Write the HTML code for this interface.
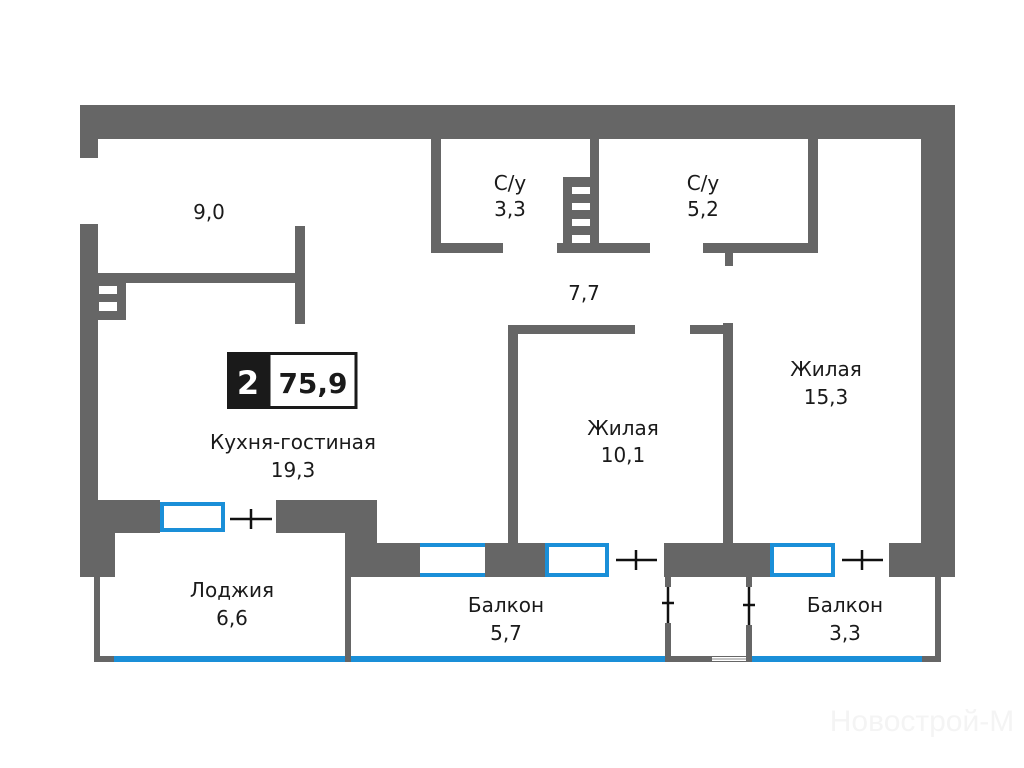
<!DOCTYPE html>
<html><head><meta charset="utf-8"><style>
html,body{margin:0;padding:0;background:#fff;}
svg{display:block;}
text{font-family:"DejaVu Sans","Liberation Sans",sans-serif;font-size:20px;fill:#1a1a1a;text-anchor:middle;}
</style></head><body>
<svg width="1024" height="768" viewBox="0 0 1024 768" xmlns="http://www.w3.org/2000/svg">
<g fill="#666">
<!-- outer top -->
<rect x="80" y="105" width="875" height="34"/>
<rect x="80" y="139" width="18" height="19"/>
<rect x="921" y="105" width="34" height="440"/>
<!-- left wall -->
<rect x="80" y="224" width="18" height="300"/>
<rect x="80" y="500" width="35" height="77"/>
<rect x="80" y="500" width="80" height="33"/>
<rect x="276" y="500" width="101" height="33"/>
<rect x="345" y="500" width="32" height="77"/>
<rect x="345" y="543" width="75" height="34"/>
<rect x="485" y="543" width="60" height="34"/>
<rect x="664" y="543" width="106" height="34"/>
<rect x="889" y="543" width="66" height="34"/>
<!-- kitchen partition -->
<rect x="98" y="273" width="200" height="10"/>
<rect x="295" y="226" width="10" height="98"/>
<rect x="98" y="283" width="28" height="37"/>
<!-- bathroom 1 -->
<rect x="431" y="139" width="10" height="114"/>
<rect x="431" y="243" width="72" height="10"/>
<rect x="590" y="139" width="9" height="114"/>
<rect x="563" y="177" width="36" height="76"/>
<rect x="557" y="243" width="93" height="10"/>
<!-- bathroom 2 -->
<rect x="808" y="139" width="10" height="114"/>
<rect x="703" y="243" width="115" height="10"/>
<rect x="725" y="253" width="8" height="13"/>
<!-- corridor rooms -->
<rect x="508" y="325" width="127" height="9"/>
<rect x="508" y="325" width="10" height="218"/>
<rect x="690" y="325" width="43" height="9"/>
<rect x="723" y="323" width="10" height="220"/>
<!-- balconies -->
<rect x="94" y="577" width="6" height="85"/>
<rect x="94" y="656" width="20" height="6"/>
<rect x="345" y="577" width="6" height="85"/>
<rect x="665" y="577" width="6" height="10"/>
<rect x="665" y="623" width="6" height="39"/>
<rect x="665" y="656" width="87" height="6"/>
<rect x="746" y="577" width="6" height="10"/>
<rect x="746" y="625" width="6" height="37"/>
<rect x="935" y="577" width="6" height="85"/>
<rect x="922" y="656" width="19" height="6"/>
</g>
<!-- vent slots -->
<g fill="#fff">
<rect x="99" y="286" width="18" height="8"/>
<rect x="99" y="302" width="18" height="9"/>
<rect x="572" y="187" width="18" height="7"/>
<rect x="572" y="203" width="18" height="7"/>
<rect x="572" y="219" width="18" height="7"/>
<rect x="572" y="235" width="18" height="8"/>
<rect x="712" y="657" width="34" height="4"/>
</g>
<line x1="712" y1="659" x2="746" y2="659" stroke="#888" stroke-width="1"/>
<!-- windows -->
<g fill="#fff" stroke="#1a8fd8" stroke-width="4">
<rect x="162" y="504" width="61" height="26"/>
<rect x="547" y="545" width="60" height="30"/>
<rect x="772" y="545" width="61" height="30"/>
</g>
<g fill="#1a8fd8">
<rect x="420" y="543" width="65" height="4"/>
<rect x="420" y="573" width="65" height="4"/>
<rect x="114" y="656" width="231" height="6"/>
<rect x="351" y="656" width="314" height="6"/>
<rect x="752" y="656" width="170" height="6"/>
</g>
<!-- door ticks -->
<g stroke="#111" stroke-width="2.5">
<line x1="230" y1="519" x2="272" y2="519"/><line x1="251" y1="509" x2="251" y2="529"/>
<line x1="616" y1="560" x2="657" y2="560"/><line x1="636" y1="550" x2="636" y2="570"/>
<line x1="842" y1="560" x2="883" y2="560"/><line x1="862" y1="550" x2="862" y2="570"/>
<line x1="668" y1="587" x2="668" y2="623"/><line x1="662" y1="603" x2="674" y2="603"/>
<line x1="749" y1="587" x2="749" y2="625"/><line x1="743" y1="605" x2="755" y2="605"/>
</g>
<!-- badge -->
<rect x="227" y="352" width="41" height="57" fill="#1a1a1a"/>
<rect x="269" y="353.5" width="87" height="54" fill="#fff" stroke="#1a1a1a" stroke-width="3"/>
<text x="248" y="394" style="font-size:32px;font-weight:bold;fill:#fff">2</text>
<text x="313" y="393" style="font-size:28px;font-weight:bold">75,9</text>
<!-- labels -->
<text x="209" y="219">9,0</text>
<text x="510" y="190">С/у</text><text x="510" y="216">3,3</text>
<text x="703" y="190">С/у</text><text x="703" y="216">5,2</text>
<text x="584" y="300">7,7</text>
<text x="826" y="376">Жилая</text><text x="826" y="404">15,3</text>
<text x="623" y="435">Жилая</text><text x="623" y="462">10,1</text>
<text x="293" y="449">Кухня-гостиная</text><text x="293" y="477">19,3</text>
<text x="232" y="597">Лоджия</text><text x="232" y="625">6,6</text>
<text x="506" y="612">Балкон</text><text x="506" y="640">5,7</text>
<text x="845" y="612">Балкон</text><text x="845" y="640">3,3</text>
<text x="922" y="731" style="font-size:30px;fill:#f4f4f4;font-family:'Liberation Sans Narrow','Liberation Sans',sans-serif;">Новострой-М</text>
</svg>
</body></html>
